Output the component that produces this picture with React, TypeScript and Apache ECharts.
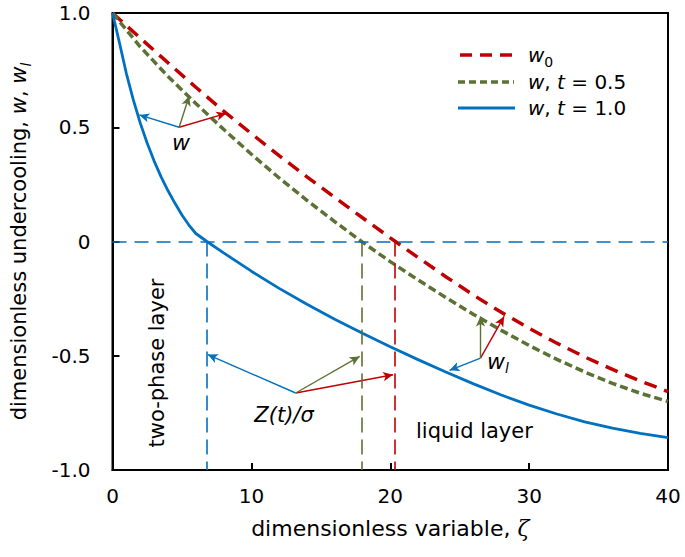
import { useEffect, useRef } from 'react';
import * as echarts from 'echarts';

const FONT = 'DejaVu Sans';
const RED = '#C00000';
const GREEN = '#5B7234';
const BLUE = '#0070C0';

// dimensionless variable ζ for the two dashed curves
const zetaDashed = [0, 2, 4, 6, 8, 10, 12, 14, 16, 18, 20, 22, 24, 26, 28, 30, 32, 34, 36, 38, 40];
// w0
const w0Values = [1.0, 0.89, 0.782, 0.675, 0.571, 0.472, 0.376, 0.283, 0.193, 0.104, 0.016, -0.07, -0.154, -0.235, -0.31, -0.38, -0.445, -0.505, -0.56, -0.61, -0.657];
// w, t = 0.5
const wHalfValues = [1.0, 0.852, 0.722, 0.604, 0.491, 0.382, 0.278, 0.18, 0.087, -0.003, -0.088, -0.168, -0.245, -0.319, -0.389, -0.455, -0.516, -0.571, -0.621, -0.664, -0.70];
// w, t = 1.0
const zetaBlue = [0, 0.25, 0.5, 1, 1.5, 2, 2.5, 3, 3.5, 4, 4.5, 5, 5.5, 6, 6.8, 8, 10, 12, 14, 16, 18, 20, 22, 24, 26, 28, 30, 32, 34, 36, 38, 40];
const wOneValues = [1.0, 0.935, 0.87, 0.735, 0.62, 0.518, 0.43, 0.352, 0.283, 0.222, 0.167, 0.116, 0.072, 0.035, 0, -0.05, -0.13, -0.205, -0.275, -0.34, -0.402, -0.461, -0.517, -0.571, -0.623, -0.672, -0.716, -0.755, -0.789, -0.817, -0.84, -0.858];

// front positions Z(t)/σ (blue t=1.0, green t=0.5, red w0)
const frontBlue = 6.8;
const frontGreen = 17.92;
const frontRed = 20.3;

// annotation arrows: origin points and tips [blue, green, red]
const arrowOriginW = [4.8, 0.5];
const arrowTipsW = [[1.93, 0.554], [5.52, 0.637], [8.2, 0.561]];
const arrowOriginWl = [26.5, -0.51];
const arrowTipsWl = [[24.27, -0.564], [26.5, -0.328], [28.2, -0.328]];
const arrowOriginZ = [13.19, -0.663];
const arrowTipsZ = [[6.86, -0.495], [17.8, -0.503], [20.2, -0.583]];

const xTicks = { min: 0, max: 40, interval: 10 };
const yTicks = { min: -1, max: 1, interval: 0.5 };

const zip = (xs: number[], ys: number[]) => xs.map((x, i) => [x, ys[i]]);

const rich = {
  i: { fontStyle: 'italic', fontFamily: FONT, lineHeight: 28 },
  s: { fontStyle: 'italic', fontFamily: FONT, fontSize: 14, verticalAlign: 'bottom', lineHeight: 16 },
  n: { fontFamily: FONT, fontSize: 14, verticalAlign: 'bottom', lineHeight: 16 },
  z: { fontStyle: 'italic', fontFamily: 'DejaVu Serif' },
};

function arrowItems(color: string, idx: number) {
  const thin = { color, width: 1.4, type: 'solid' as const };
  const mk = (o: number[], t: number[]) => [
    { coord: o, symbol: 'none', lineStyle: thin },
    { coord: t, symbol: 'arrow', lineStyle: thin },
  ];
  return [
    mk(arrowOriginW, arrowTipsW[idx]),
    mk(arrowOriginWl, arrowTipsWl[idx]),
    mk(arrowOriginZ, arrowTipsZ[idx]),
  ];
}

function frontLine(color: string, x: number) {
  const ls = { color, width: 1.6, type: [15, 7] };
  return [
    { coord: [x, 0], symbol: 'none', lineStyle: ls },
    { coord: [x, yTicks.min], symbol: 'none', lineStyle: ls },
  ];
}

function buildOption() {
  const mlBase = {
    silent: true,
    symbol: ['none', 'arrow'],
    symbolSize: [7, 10],
    label: { show: false },
    emphasis: { disabled: true },
    animation: false,
  };
  const axisLine = { show: true, onZero: false, lineStyle: { color: '#000', width: 2 } };
  const axisTick = { show: true, inside: true, length: 7, lineStyle: { color: '#000', width: 2 } };
  return {
    animation: false,
    backgroundColor: '#fff',
    grid: { left: 110, right: 17, top: 13, bottom: 87, show: true, borderColor: '#000', borderWidth: 2, backgroundColor: 'transparent' },
    xAxis: {
      type: 'value',
      min: xTicks.min,
      max: xTicks.max,
      interval: xTicks.interval,
      axisLine,
      axisTick,
      splitLine: { show: false },
      axisLabel: { color: '#000', fontFamily: FONT, fontSize: 20, margin: 16 },
      name: 'dimensionless variable, {z|ζ}',
      nameLocation: 'middle',
      nameGap: 47,
      nameTextStyle: { color: '#000', fontFamily: FONT, fontSize: 22, rich: { z: { ...rich.z, fontSize: 22 } } },
    },
    yAxis: {
      type: 'value',
      min: yTicks.min,
      max: yTicks.max,
      interval: yTicks.interval,
      axisLine,
      axisTick,
      splitLine: { show: false },
      axisLabel: {
        color: '#000',
        fontFamily: FONT,
        fontSize: 20,
        margin: 22,
        formatter: (v: number) => (Math.abs(v) < 1e-9 ? '0' : v.toFixed(1)),
      },
      name: 'dimensionless undercooling, {i|w}, {i|w}{s|l}',
      nameLocation: 'middle',
      nameGap: 80,
      nameTextStyle: {
        color: '#000',
        fontFamily: FONT,
        fontSize: 21,
        rich: { i: { ...rich.i, fontSize: 21 }, s: rich.s },
      },
    },
    series: [
      {
        name: 'w0',
        type: 'line',
        data: zip(zetaDashed, w0Values),
        showSymbol: false,
        smooth: false,
        lineStyle: { color: RED, width: 3.5, type: [13, 8] },
        itemStyle: { color: RED },
        z: 3,
        markLine: { ...mlBase, data: [frontLine(RED, frontRed), ...arrowItems(RED, 2)] },
      },
      {
        name: 'w, t = 0.5',
        type: 'line',
        data: zip(zetaDashed, wHalfValues),
        showSymbol: false,
        smooth: false,
        lineStyle: { color: GREEN, width: 3.5, type: [8, 4] },
        itemStyle: { color: GREEN },
        z: 3,
        markLine: { ...mlBase, data: [frontLine(GREEN, frontGreen), ...arrowItems(GREEN, 1)] },
      },
      {
        name: 'w, t = 1.0',
        type: 'line',
        data: zip(zetaBlue, wOneValues),
        showSymbol: false,
        smooth: false,
        lineStyle: { color: BLUE, width: 2.8 },
        itemStyle: { color: BLUE },
        z: 3,
        markLine: {
          ...mlBase,
          data: [
            [
              { coord: [xTicks.min, 0], symbol: 'none', lineStyle: { color: BLUE, width: 1.6, type: [14, 8] } },
              { coord: [xTicks.max, 0], symbol: 'none', lineStyle: { color: BLUE, width: 1.6, type: [14, 8] } },
            ],
            frontLine(BLUE, frontBlue),
            ...arrowItems(BLUE, 0),
          ],
        },
      },
    ],
    graphic: [
      // legend
      { type: 'line', shape: { x1: 460, y1: 55, x2: 514, y2: 55 }, style: { stroke: RED, lineWidth: 3.5, lineDash: [12, 8] } },
      { type: 'line', shape: { x1: 458, y1: 82, x2: 514, y2: 82 }, style: { stroke: GREEN, lineWidth: 3.5, lineDash: [7, 4] } },
      { type: 'line', shape: { x1: 458, y1: 108, x2: 515, y2: 108 }, style: { stroke: BLUE, lineWidth: 3 } },
      {
        type: 'text', x: 528, y: 55,
        style: { text: '{i|w}{n|0}', fontFamily: FONT, fontSize: 20, fill: '#000', align: 'left', verticalAlign: 'middle', rich: { i: { ...rich.i, fontSize: 20 }, n: rich.n } },
      },
      {
        type: 'text', x: 528, y: 82,
        style: { text: '{i|w}, {i|t} = 0.5', fontFamily: FONT, fontSize: 20, fill: '#000', align: 'left', verticalAlign: 'middle', rich: { i: { ...rich.i, fontSize: 20 } } },
      },
      {
        type: 'text', x: 528, y: 108,
        style: { text: '{i|w}, {i|t} = 1.0', fontFamily: FONT, fontSize: 20, fill: '#000', align: 'left', verticalAlign: 'middle', rich: { i: { ...rich.i, fontSize: 20 } } },
      },
      // annotations
      {
        type: 'text', x: 181, y: 142,
        style: { text: 'w', fontFamily: FONT, fontStyle: 'italic', fontSize: 22, fill: '#000', align: 'center', verticalAlign: 'middle' },
      },
      {
        type: 'text', x: 487, y: 361,
        style: { text: '{i|w}{s|l}', fontFamily: FONT, fontSize: 22, fill: '#000', align: 'left', verticalAlign: 'middle', rich: { i: { ...rich.i, fontSize: 22 }, s: rich.s } },
      },
      {
        type: 'text', x: 284, y: 415,
        style: { text: 'Z(t)/σ', fontFamily: FONT, fontStyle: 'italic', fontSize: 21, fill: '#000', align: 'center', verticalAlign: 'middle' },
      },
      {
        type: 'text', x: 157, y: 363, rotation: Math.PI / 2,
        style: { text: 'two-phase layer', fontFamily: FONT, fontSize: 21, fill: '#000', align: 'center', verticalAlign: 'middle' },
      },
      {
        type: 'text', x: 416, y: 431,
        style: { text: 'liquid layer', fontFamily: FONT, fontSize: 21, fill: '#000', align: 'left', verticalAlign: 'middle' },
      },
    ],
  };
}

export default function App() {
  const ref = useRef<HTMLDivElement>(null);
  useEffect(() => {
    if (!ref.current) return;
    const chart = echarts.init(ref.current, null, { renderer: 'svg' });
    chart.setOption(buildOption() as any);
    return () => chart.dispose();
  }, []);
  return (
    <div
      ref={ref}
      style={{ position: 'fixed', left: 0, top: 0, width: 685, height: 557, background: '#fff' }}
    />
  );
}
